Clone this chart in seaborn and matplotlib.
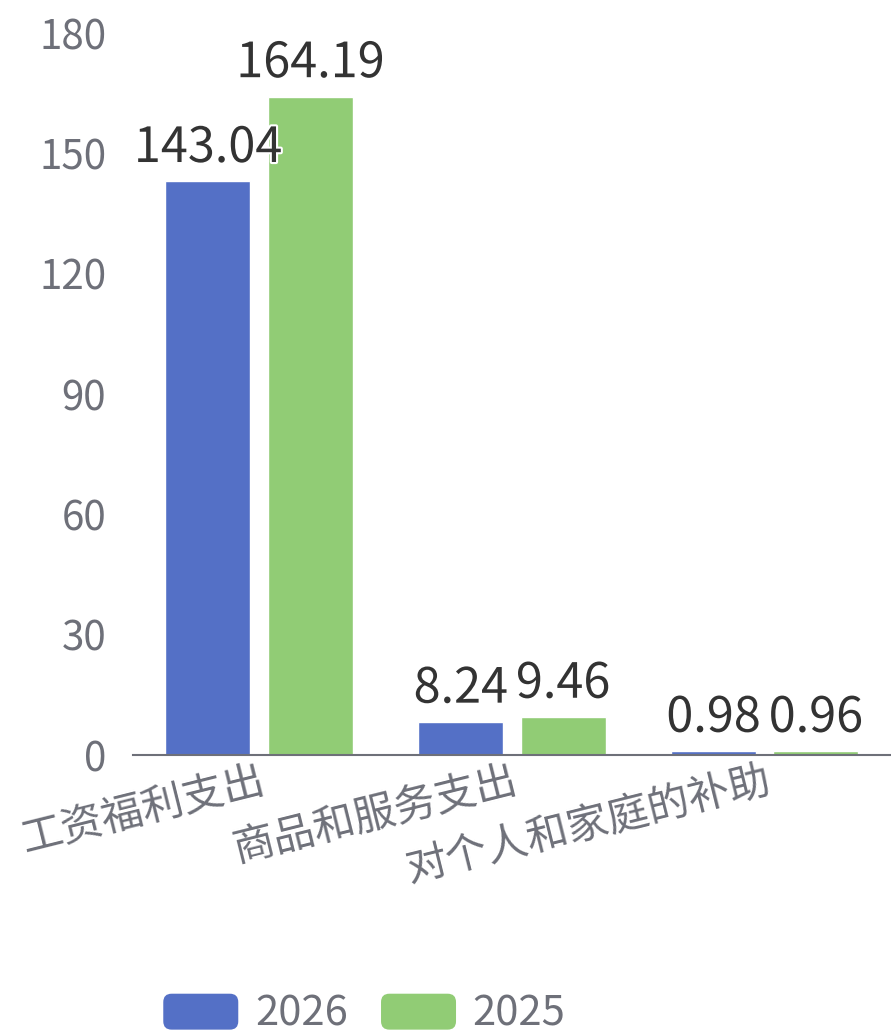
import pandas as pd
import matplotlib.pyplot as plt
import seaborn as sns
import matplotlib.patheffects as pe
from matplotlib.patches import FancyBboxPatch
from matplotlib.legend_handler import HandlerPatch

# =========================
# DATA
# =========================

categories = ["工资福利支出", "商品和服务支出", "对个人和家庭的补助"]
series_names = ["2026", "2025"]
values_2026 = [143.04, 8.24, 0.98]
values_2025 = [164.19, 9.46, 0.96]
y_ticks = [0, 30, 60, 90, 120, 150, 180]

colors = ["#5470c6", "#91cc75"]

df = pd.DataFrame({
    "category": categories * 2,
    "year": [series_names[0]] * 3 + [series_names[1]] * 3,
    "value": values_2026 + values_2025,
})

# =========================
# STYLE
# =========================

sns.set_style("white")
plt.rcParams["font.family"] = ["Noto Sans CJK SC", "DejaVu Sans"]

fig = plt.figure(figsize=(8.91, 10.35), dpi=100)
ax = fig.add_axes([0.149, 0.2705, 0.851, 0.6975])

sns.barplot(
    data=df,
    x="category",
    y="value",
    hue="year",
    palette=colors,
    width=0.81,
    gap=0.17,
    saturation=1,
    ax=ax,
)

# =========================
# VALUE LABELS
# =========================

for container in ax.containers:
    labels = ax.bar_label(
        container,
        labels=[f"{v:.2f}" for v in container.datavalues],
        padding=6,
        fontsize=35,
        color="#333333",
    )
    for t in labels:
        t.set_path_effects([pe.withStroke(linewidth=3, foreground="white")])

# =========================
# AXES
# =========================

ax.set_ylim(0, 180)
ax.set_xlim(-0.5, 2.5)
ax.set_yticks(y_ticks)
ax.tick_params(axis="y", length=0, labelsize=29, labelcolor="#6e7079", pad=19)

ax.set_xticks([0, 1, 2])
ax.set_xticklabels(categories, rotation=14, ha="right",
                   rotation_mode="anchor", fontsize=30, color="#6e7079")
ax.tick_params(axis="x", which="major", length=0, pad=4)
ax.set_xticks([-0.5, 0.5, 1.5, 2.5], minor=True)
ax.tick_params(axis="x", which="minor", length=12, width=1.5, color="#6e7079")

ax.set_xlabel("")
ax.set_ylabel("")

for side in ["top", "right", "left"]:
    ax.spines[side].set_visible(False)
ax.spines["bottom"].set_color("#6e7079")
ax.spines["bottom"].set_linewidth(1.5)

# =========================
# LEGEND
# =========================


class RoundHandler(HandlerPatch):
    def create_artists(self, legend, orig_handle, xdescent, ydescent,
                       width, height, fontsize, trans):
        p = FancyBboxPatch(
            (-xdescent, -ydescent), width, height,
            boxstyle="round,pad=0,rounding_size=6",
            facecolor=orig_handle.get_facecolor(),
            edgecolor="none",
            transform=trans,
        )
        return [p]


handles, lbls = ax.get_legend_handles_labels()
ax.get_legend().remove()
fig.legend(
    handles, lbls,
    loc="lower center",
    bbox_to_anchor=(0.409, 0.0),
    borderaxespad=0,
    borderpad=0,
    ncol=2,
    frameon=False,
    fontsize=30,
    labelcolor="#6e7079",
    handlelength=1.8,
    handleheight=0.95,
    handletextpad=0.4,
    columnspacing=0.8,
    handler_map={h: RoundHandler() for h in handles},
)

plt.savefig("out.png", dpi=100)
